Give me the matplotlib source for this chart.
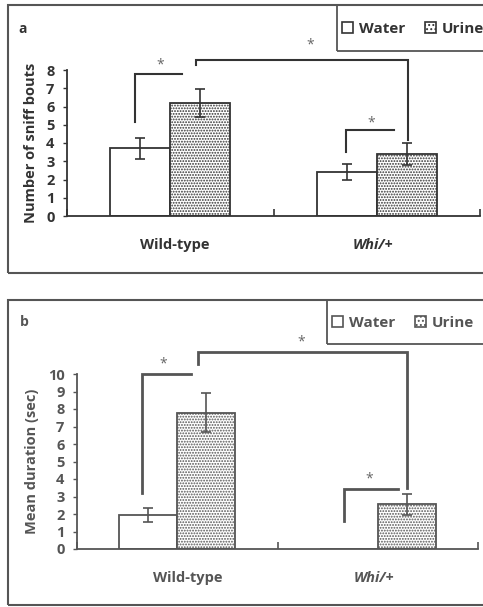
import matplotlib
matplotlib.use("Agg")
import matplotlib.pyplot as plt
from matplotlib.patches import Rectangle, Patch
import numpy as np

plt.rcParams['font.family'] = ['Open Sans', 'DejaVu Sans']
plt.rcParams['font.weight'] = 'bold'
plt.rcParams['axes.labelweight'] = 'bold'
plt.rcParams['hatch.linewidth'] = 0.9

groups = ["Wild-type", "Whi/+"]
series = ["Water", "Urine"]

# panel a: number of sniff bouts
bouts_water = [3.7, 2.4]
bouts_water_err = [0.6, 0.45]
bouts_urine = [6.2, 3.4]
bouts_urine_err = [0.75, 0.6]

# panel b: mean duration (sec)
dur_water = [1.95, 0.0]
dur_water_err = [0.4, 0.0]
dur_urine = [7.8, 2.55]
dur_urine_err = [1.1, 0.62]

# significance brackets: (x_left, x_right, y_left, y_top, y_right, star_x, star_y)
brackets_a = [(0.33, 0.557, 5.15, 7.78, 7.78, 0.45, 8.3),
              (0.625, 1.651, 8.27, 8.55, 4.16, 1.177, 9.35),
              (1.351, 1.584, 3.5, 4.71, 4.71, 1.472, 5.1)]
brackets_b = [(0.324, 0.569, 3.2, 10.0, 10.0, 0.43, 10.6),
              (0.604, 1.646, 10.6, 11.26, 3.49, 1.12, 11.85),
              (1.332, 1.6, 1.6, 3.43, 3.43, 1.456, 4.0)]

W, H = 483, 607
fig = plt.figure(figsize=(W / 100, H / 100), dpi=100)
fig.patch.set_facecolor("white")


def fx(px):
    return px / W


def fy(py):
    return 1 - py / H


def box(l, t, r, b, lw=1.5):
    fig.add_artist(Rectangle((fx(l), fy(b)), fx(r) - fx(l), fy(t) - fy(b),
                             transform=fig.transFigure, fill=False,
                             edgecolor="#555555", linewidth=lw))


def panel(ax_box, frame, label, label_pos, legend_box, water, water_err, urine,
          urine_err, ymax, ylabel, brackets, col, blw, label_x):
    l, t, r, b = ax_box
    ax = fig.add_axes([fx(l), fy(b), fx(r) - fx(l), fy(t) - fy(b)])
    x = np.arange(len(groups)) + 0.5
    w = 0.29
    ekw = dict(ecolor=col, elinewidth=1.2, capsize=3.5, capthick=1.2)
    ax.bar(x - w / 2, water, w, color="white", edgecolor=col, linewidth=1.3,
           label=series[0])
    for xi, v, e in zip(x - w / 2, water, water_err):
        if v > 0:
            ax.errorbar(xi, v, yerr=e, fmt="none", **ekw)
    ax.bar(x + w / 2, urine, w, color="white", edgecolor=col, linewidth=1.3,
           hatch="......", label=series[1])
    ax.errorbar(x + w / 2, urine, yerr=urine_err, fmt="none", **ekw)

    ax.set_xlim(0, 2)
    ax.set_ylim(0, ymax)
    ax.set_yticks(np.arange(0, ymax + 1, 1))
    ax.set_xticks(label_x)
    ax.set_xticklabels(groups, fontweight="bold")
    ax.get_xticklabels()[1].set_style("italic")
    ax.set_xticks([0, 1, 2], minor=True)
    ax.tick_params(axis="x", which="major", length=0, pad=16, labelsize=10.5,
                   labelcolor=col)
    ax.tick_params(axis="x", which="minor", length=5, direction="in",
                   width=1.2, color=col)
    ax.tick_params(axis="y", length=3, direction="out", width=1.0, color=col,
                   labelsize=10.5, labelcolor=col, pad=6)
    for lbl in ax.get_yticklabels():
        lbl.set_fontweight("bold")
    for s in ["top", "right"]:
        ax.spines[s].set_visible(False)
    for s in ["left", "bottom"]:
        ax.spines[s].set_color(col)
        ax.spines[s].set_linewidth(1.3)
    ax.set_ylabel(ylabel, fontsize=10.5, color=col, labelpad=6,
                  fontweight="bold")

    for (x1, x2, y1, yt, y2, sx, sy) in brackets:
        ax.plot([x1, x1, x2, x2], [y1, yt, yt, y2], color=col, lw=blw,
                clip_on=False, solid_joinstyle="miter")
        ax.text(sx, sy, "*", ha="center", va="center", fontsize=10,
                color="#666666", fontweight="normal", clip_on=False)

    box(*frame)
    fig.text(fx(label_pos[0]), fy(label_pos[1]), label, fontsize=10,
             color=col, ha="left", va="center", fontweight="bold")

    # legend box drawn separately so its size matches the original
    ll, lt, lr, lb = legend_box
    box(ll, lt, lr, lb, lw=1.3)
    handles = [Patch(facecolor="white", edgecolor=col, linewidth=1.2,
                     label=series[0]),
               Patch(facecolor="white", edgecolor=col, linewidth=1.2,
                     hatch="....", label=series[1])]
    fig.legend(handles=handles, ncol=2, loc="center left",
               bbox_to_anchor=(fx(ll + 5), fy((lt + lb) / 2 + 1)),
               borderaxespad=0, borderpad=0, frameon=False, handlelength=0.75,
               handleheight=0.75, handletextpad=0.35, columnspacing=1.3,
               labelcolor=col, prop={"weight": "bold", "size": 11})
    return ax


panel((67, 70, 480, 216), (8, 5, 490, 273), "a", (18, 29), (337, 5, 490, 51),
      bouts_water, bouts_water_err, bouts_urine, bouts_urine_err, 8,
      "Number of sniff bouts", brackets_a, "#333333", 1.5, [0.52, 1.48])
panel((77, 374, 478, 549), (8, 300, 490, 605), "b", (20, 322),
      (327, 300, 490, 344),
      dur_water, dur_water_err, dur_urine, dur_urine_err, 10,
      "Mean duration (sec)", brackets_b, "#555555", 2.0, [0.55, 1.48])

fig.savefig("out.png", dpi=100)
